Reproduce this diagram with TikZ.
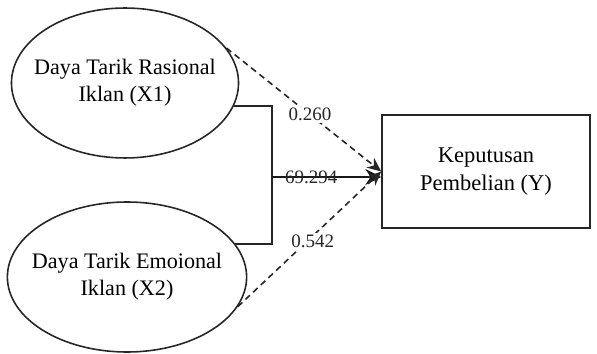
\documentclass[tikz,border=0pt]{standalone}
\usepackage{fontspec}
\setmainfont{Liberation Serif}
\usepackage{tikz}
\usetikzlibrary{arrows.meta, shapes.geometric, positioning}

\begin{document}
\begin{tikzpicture}[
          x=0.02cm, y=-0.02cm,
          latent/.style={
              ellipse,
              draw=black!85,
              line width=0.9pt,
              minimum width=4.5cm,
              minimum height=3.0cm,
              inner xsep=-6pt,
              inner ysep=0pt,
              font=\fontsize{12.6}{15.4}\selectfont,
              align=center
            },
          target/.style={
              draw=black!85,
              line width=0.9pt,
              minimum width=4.16cm,
              minimum height=2.26cm,
              font=\fontsize{12.8}{15.8}\selectfont,
              align=center
            },
          coef/.style={font=\fontsize{10.8}{12}\selectfont, text=black!85, inner sep=1pt},
          arr/.style={-{Stealth[length=9pt, width=9pt]}, black!90, line width=1.1pt},
          dasharr/.style={-{Stealth[length=8pt, width=7pt]}, black!85, line width=0.9pt, dash pattern=on 3.5pt off 2.5pt}
        ]
        \useasboundingbox (0,0) rectangle (597,354);

        \node[latent] (x1) at (125,83) {Daya Tarik Rasional\\Iklan (X1)};
        \node[latent] (x2) at (127,277) {Daya Tarik Emoional\\Iklan (X2)};
        \node[target] (y) at (486,171.5) {Keputusan\\Pembelian (Y)};

        \coordinate (j) at (272,177);

        \draw[black!85, line width=0.9pt] (x1.-12) -| (j);
        \draw[black!85, line width=0.9pt] (x2.17) -| (j);
        \draw[arr] (j) -- node[coef, pos=0.36] {69.294} (j -| y.west);

        \draw[dasharr] (x1.19) -- node[coef, pos=0.54, fill=white] {0.260} (y.west);
        \draw[dasharr] (x2.-15) -- node[coef, pos=0.55, fill=white, xshift=-0.08cm, yshift=-0.18cm] {0.542} (y.west);
      \end{tikzpicture}
\end{document}
